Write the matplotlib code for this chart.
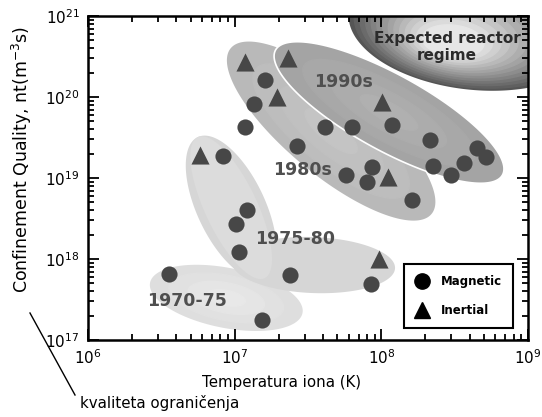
import numpy as np
import matplotlib.pyplot as plt
from matplotlib.lines import Line2D

# magnetic confinement experiments (circles)
mag_T = [3.56e6, 1.53e7, 8.3e6, 1.21e7, 1.02e7, 1.07e7, 2.38e7, 8.5e7,
         1.61e7, 1.36e7, 1.17e7, 2.66e7, 4.13e7, 6.3e7, 1.18e8, 5.74e7,
         8.6e7, 7.98e7, 1.62e8, 2.14e8, 2.25e8, 2.98e8, 3.66e8, 4.49e8, 5.17e8]
mag_nt = [6.5e17, 1.77e17, 1.87e19, 4.0e18, 2.7e18, 1.22e18, 6.3e17, 4.9e17,
          1.62e20, 8.2e19, 4.26e19, 2.48e19, 4.26e19, 4.26e19, 4.5e19, 1.09e19,
          1.37e19, 8.9e18, 5.35e18, 2.94e19, 1.41e19, 1.09e19, 1.53e19, 2.34e19, 1.82e19]

# inertial confinement experiments (triangles)
inert_T = [5.8e6, 9.6e7, 1.17e7, 2.31e7, 1.94e7, 1.01e8, 1.11e8]
inert_nt = [1.92e19, 1.0e18, 2.7e20, 3.0e20, 1.0e20, 8.7e19, 1.03e19]

# era regions: end points (T, nt) and half thickness
eras = ['1970-75', '1975-80', '1980s', '1990s']
era_label_pos = [(4.7e6, 3.0e17), (2.6e7, 1.77e18), (2.9e7, 1.26e19), (5.5e7, 1.53e20)]

W, H = 440.0, 324.0


def to_uv(T, q):
    return (np.log10(T) - 6) / 3 * W, (np.log10(q) - 17) / 4 * H


def from_uv(u, v):
    return 10 ** (6 + 3 * u / W), 10 ** (17 + 4 * v / H)


def blob(ax, p1, p2, half, c_out, c_in=None, hl=None, n=1, **kw):
    u1, v1 = to_uv(*p1)
    u2, v2 = to_uv(*p2)
    cu, cv = (u1 + u2) / 2, (v1 + v2) / 2
    a = np.hypot(u2 - u1, v2 - v1) / 2
    ang = np.arctan2(v2 - v1, u2 - u1)
    t = np.linspace(0, 2 * np.pi, 300)
    x, y = a * np.cos(t), half * np.sin(t)
    uu = cu + x * np.cos(ang) - y * np.sin(ang)
    vv = cv + x * np.sin(ang) + y * np.cos(ang)
    if hl is None:
        hu, hv = cu, cv
    else:
        hu, hv = to_uv(*hl)
    co = np.array(plt.matplotlib.colors.to_rgb(c_out))
    ci = co if c_in is None else np.array(plt.matplotlib.colors.to_rgb(c_in))
    for i in range(n):
        f = i / max(n - 1, 1)
        s = 1 - 0.75 * f if n > 1 else 1
        T, q = from_uv(hu + s * (uu - hu), hv + s * (vv - hv))
        ax.fill(T, q, color=co + (ci - co) * f, zorder=1, **(kw if i == 0 else {}))


fig = plt.figure(figsize=(5.42, 4.17), dpi=100)
ax = fig.add_axes([88 / 542, 77 / 417, 440 / 542, 324 / 417])
ax.set_xscale('log')
ax.set_yscale('log')
ax.set_xlim(1e6, 1e9)
ax.set_ylim(1e17, 1e21)

# regions
blob(ax, (2.65e6, 5.1e17), (2.9e7, 2.15e17), 30, '#dedede', '#e8e8e8', n=4, lw=0)
blob(ax, (5.6e6, 3.2e19), (1.6e7, 5.8e17), 34, '#d6d6d6', lw=0)
blob(ax, (9.6e6, 9.2e17), (1.24e8, 7.7e17), 28, '#d6d6d6', lw=0)
blob(ax, (5.6e6, 3.2e19), (1.6e7, 5.8e17), 26, '#dcdcdc', lw=0)
blob(ax, (9.4e6, 4.0e20), (2.2e8, 3.6e18), 44, '#b9b9b9', '#c4c4c4', n=4, lw=0)
blob(ax, (1.9e7, 3.8e20), (6.7e8, 1.09e19), 38, '#a4a4a4', '#b0b0b0', n=4,
     lw=1.2, edgecolor='white')
blob(ax, (6.0e7, 1.12e21), (2.86e9, 4.9e20), 63, '#555555', '#e6e6e6',
     hl=(2.8e8, 4.3e20), n=14, lw=0)

ax.text(2.8e8, 4.1e20, 'Expected reactor\nregime', ha='center', va='center',
        fontsize=11, fontweight='bold', color='#2b2b2b', linespacing=1.15, zorder=4)

for lab, (x, y) in zip(eras, era_label_pos):
    ax.text(x, y, lab, ha='center', va='center', fontsize=12.5,
            fontweight='bold', color='#4f4f4f', zorder=4)

ax.scatter(mag_T, mag_nt, s=135, marker='o', c='#474747', linewidths=0, zorder=3)
ax.scatter(inert_T, inert_nt, s=170, marker='^', c='#474747', linewidths=0, zorder=3)

handles = [Line2D([], [], marker='o', ls='', color='black', ms=11, label='Magnetic'),
           Line2D([], [], marker='^', ls='', color='black', ms=12, label='Inertial')]
leg = ax.legend(handles=handles, loc='lower right', bbox_to_anchor=(0.966, 0.037),
                frameon=True, fancybox=False, edgecolor='black', framealpha=1,
                prop={'weight': 'bold', 'size': 8.5}, handletextpad=0.9,
                borderpad=0.95, labelspacing=1.35, handlelength=1.3, borderaxespad=0)
leg.get_frame().set_linewidth(1.5)
leg.set_zorder(5)

for sp in ax.spines.values():
    sp.set_linewidth(1.8)
ax.tick_params(which='both', direction='in', top=True, right=True, width=1.3,
               labelsize=11)
ax.tick_params(which='major', length=8, pad=6)
ax.tick_params(which='minor', length=4)

ax.set_ylabel('Confinement Quality, nt(m$^{-3}$s)', fontsize=12.5)
ax.yaxis.set_label_coords(-0.122, 0.556)

fig.text(282 / 542, 1 - 382 / 417, 'Temperatura iona (K)', ha='center', va='center',
         fontsize=10.8)
fig.text(80 / 542, 1 - 403 / 417, 'kvaliteta ograničenja', ha='left', va='center',
         fontsize=10.8)
fig.add_artist(Line2D([30 / 542, 75 / 542], [1 - 313 / 417, 1 - 395 / 417],
                      transform=fig.transFigure, color='black', lw=1))

fig.savefig('out.png', dpi=100)
